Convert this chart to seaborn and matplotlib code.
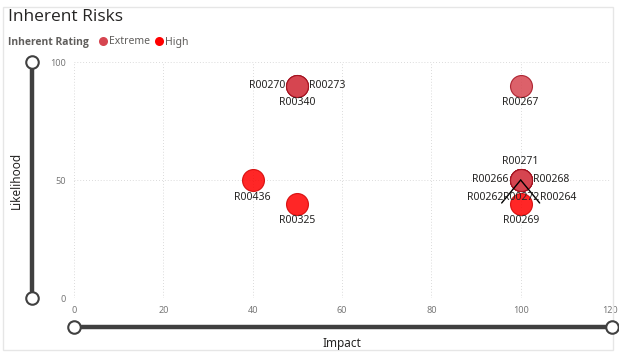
import matplotlib
import matplotlib.pyplot as plt
import pandas as pd
import seaborn as sns
from matplotlib.lines import Line2D
from matplotlib.patches import Rectangle

matplotlib.use("Agg")

# ---------------------------------------------------------------------------
# Data
# ---------------------------------------------------------------------------
risk_ids   = ["R00270", "R00273", "R00340", "R00267",
              "R00271", "R00266", "R00268", "R00262", "R00272", "R00264",
              "R00436", "R00325", "R00269"]
impact     = [50, 50, 50, 100, 100, 100, 100, 100, 100, 100, 40, 50, 100]
likelihood = [90, 90, 90, 90, 50, 50, 50, 50, 50, 50, 50, 40, 40]
rating     = ["Extreme"] * 10 + ["High"] * 3

rating_order = ["Extreme", "High"]
x_ticks      = [0, 20, 40, 60, 80, 100, 120]
y_ticks      = [0, 50, 100]

# label placement per point (pixel offsets from the marker centre, y down)
label_offsets = [(-12, 0), (12, 0), (0, 17), (0, 17),
                 (0, -19), (-12, 0), (12, 0), (-17, 18), (0, 18), (19, 18),
                 (0, 17), (0, 17), (0, 17)]
# leader lines to the crowded labels (end point offsets, pixels)
leader_ends = {"R00262": (-19, 23), "R00264": (19, 23)}

PALETTE = {"Extreme": "#D64550", "High": "#FF0000"}
EDGES   = {"Extreme": "#A3101E", "High": "#D10000"}
GREY_TXT = "#605E5C"
DARK_TXT = "#252423"

df = pd.DataFrame({"risk": risk_ids, "impact": impact,
                   "likelihood": likelihood, "rating": rating})

# ---------------------------------------------------------------------------
# Figure
# ---------------------------------------------------------------------------
W, H, DPI = 619, 356, 100
sns.set_theme(style="white")
plt.rcParams["font.family"] = ["Noto Sans", "DejaVu Sans"]

fig = plt.figure(figsize=(W / DPI, H / DPI), dpi=DPI)
fig.patch.set_facecolor("white")


def fx(px):
    return px / W


def fy(py):
    return 1 - py / H


# card outline
fig.add_artist(Rectangle((fx(3), fy(350)), fx(613) - fx(3), fy(7) - fy(350),
                         transform=fig.transFigure, fill=False,
                         edgecolor="#E6E6E6", linewidth=1.0))

ax = fig.add_axes([fx(74), fy(298), fx(610) - fx(74), fy(62) - fy(298)])

for r in rating_order:
    sub = df[df["rating"] == r]
    sns.scatterplot(data=sub, x="impact", y="likelihood", ax=ax,
                    color=PALETTE[r], edgecolor=EDGES[r], linewidth=0.8,
                    s=250, alpha=0.85, legend=False, zorder=3)

for rid, x, y, (dx, dy) in zip(risk_ids, impact, likelihood, label_offsets):
    ha = "center" if dx == 0 else ("right" if dx < 0 else "left")
    ax.annotate(rid, xy=(x, y), xytext=(dx, -dy), textcoords="offset pixels",
                ha=ha, va="center", fontsize=7.5, color=DARK_TXT, zorder=5)
    if rid in leader_ends:
        ex, ey = leader_ends[rid]
        ax.annotate("", xy=(x, y), xytext=(ex, -ey), textcoords="offset pixels",
                    arrowprops=dict(arrowstyle="-", color="black", lw=1.0,
                                    shrinkA=0, shrinkB=0), zorder=4)

ax.set_xlim(0, 120)
ax.set_ylim(0, 100)
ax.set_xticks(x_ticks)
ax.set_yticks(y_ticks)
ax.tick_params(axis="both", labelsize=6.5, labelcolor="#777777", length=0, pad=6)
ax.grid(True, linestyle=(0, (1, 2.5)), color="#CFCFCF", linewidth=0.6)
ax.set_axisbelow(True)
ax.set_xlabel("")
ax.set_ylabel("")
sns.despine(ax=ax, left=True, bottom=True)

# slider-style axis bars
slider = dict(color="#404040", linewidth=3.2, solid_capstyle="butt")
fig.add_artist(Line2D([fx(32), fx(32)], [fy(62), fy(298)],
                      transform=fig.transFigure, **slider))
fig.add_artist(Line2D([fx(74), fx(612)], [fy(327), fy(327)],
                      transform=fig.transFigure, **slider))
for cx, cy in [(32, 62), (32, 298), (74, 327), (612, 327)]:
    fig.add_artist(Line2D([fx(cx)], [fy(cy)], transform=fig.transFigure,
                          marker="o", markersize=9, markerfacecolor="white",
                          markeredgecolor="#404040", markeredgewidth=1.5))

fig.text(fx(16), fy(180), "Likelihood", rotation=90, ha="center", va="center",
         fontsize=8.5, color=DARK_TXT)
fig.text(fx(342), fy(343), "Impact", ha="center", va="center",
         fontsize=8.5, color=DARK_TXT)

# title and legend
fig.text(fx(8), fy(17), "Inherent Risks", ha="left", va="center",
         fontsize=12.5, color=DARK_TXT, family=["Open Sans", "DejaVu Sans"])
fig.text(fx(8), fy(42), "Inherent Rating", ha="left", va="center",
         fontsize=7.5, fontweight="bold", color=GREY_TXT,
         family=["Open Sans", "DejaVu Sans"])
handles = [Line2D([], [], linestyle="", marker="o", markersize=6.5,
                  markerfacecolor=PALETTE[r], markeredgewidth=0)
           for r in rating_order]
fig.legend(handles, rating_order, loc="center left",
           bbox_to_anchor=(fx(100), fy(42)), ncol=2, frameon=False,
           fontsize=7.5, labelcolor=GREY_TXT, handlelength=0.6,
           handletextpad=0.3, columnspacing=0.5, borderaxespad=0,
           borderpad=0)

fig.savefig("out.png", dpi=DPI)
